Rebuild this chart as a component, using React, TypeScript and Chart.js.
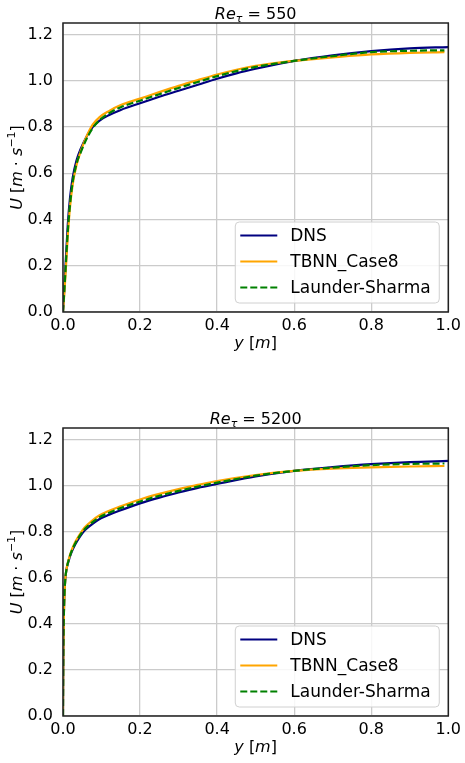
import React, { useEffect, useRef } from 'react';
import { Chart, registerables } from 'chart.js';

Chart.register(...registerables);

// ---------- data ----------
const SERIES_LABELS = ['DNS', 'TBNN_Case8', 'Launder-Sharma'];
const SERIES_COLORS = ['#000080', '#FFA500', '#008000'];
const X_TICKS = [0, 0.2, 0.4, 0.6, 0.8, 1.0];
const Y_TICKS = [0, 0.2, 0.4, 0.6, 0.8, 1.0, 1.2];

// Re_tau = 550
const yDns550 = [0, 0.003, 0.0065, 0.0125, 0.018, 0.025, 0.035, 0.047, 0.06, 0.077, 0.095, 0.12, 0.15, 0.2, 0.25, 0.3, 0.35, 0.4, 0.45, 0.5, 0.55, 0.6, 0.7, 0.8, 0.9, 1.0];
const uDns550 = [0, 0.09, 0.2, 0.38, 0.49, 0.58, 0.655, 0.71, 0.755, 0.8, 0.828, 0.852, 0.874, 0.903, 0.931, 0.957, 0.983, 1.009, 1.032, 1.052, 1.07, 1.086, 1.11, 1.128, 1.14, 1.146];
const yModel550 = [0, 0.003, 0.0065, 0.0125, 0.018, 0.025, 0.035, 0.047, 0.06, 0.077, 0.095, 0.12, 0.15, 0.2, 0.25, 0.3, 0.35, 0.4, 0.45, 0.5, 0.55, 0.6, 0.7, 0.8, 0.9, 0.99];
const uTbnn550 = [0, 0.07, 0.16, 0.33, 0.45, 0.55, 0.635, 0.7, 0.755, 0.81, 0.843, 0.87, 0.895, 0.923, 0.951, 0.978, 1.003, 1.027, 1.048, 1.065, 1.077, 1.086, 1.101, 1.114, 1.121, 1.124];
const uLs550 = [0, 0.08, 0.18, 0.35, 0.46, 0.56, 0.64, 0.695, 0.745, 0.795, 0.83, 0.86, 0.886, 0.914, 0.942, 0.969, 0.995, 1.02, 1.042, 1.06, 1.074, 1.086, 1.107, 1.124, 1.13, 1.132];

// Re_tau = 5200
const yDns5200 = [0, 0.0004, 0.001, 0.002, 0.0035, 0.0057, 0.009, 0.014, 0.022, 0.032, 0.044, 0.056, 0.075, 0.094, 0.12, 0.146, 0.2, 0.25, 0.3, 0.35, 0.4, 0.5, 0.6, 0.7, 0.8, 0.9, 1.0];
const uDns5200 = [0, 0.15, 0.3, 0.42, 0.52, 0.59, 0.635, 0.67, 0.71, 0.745, 0.778, 0.805, 0.832, 0.854, 0.874, 0.891, 0.923, 0.948, 0.97, 0.99, 1.007, 1.04, 1.064, 1.08, 1.093, 1.102, 1.107];
const yModel5200 = [0, 0.0004, 0.001, 0.002, 0.0035, 0.0057, 0.009, 0.014, 0.022, 0.032, 0.044, 0.056, 0.075, 0.094, 0.12, 0.146, 0.2, 0.25, 0.3, 0.35, 0.4, 0.5, 0.6, 0.7, 0.8, 0.9, 0.99];
const uTbnn5200 = [0, 0.13, 0.28, 0.41, 0.515, 0.588, 0.637, 0.675, 0.718, 0.756, 0.79, 0.818, 0.847, 0.87, 0.891, 0.908, 0.94, 0.964, 0.985, 1.003, 1.02, 1.046, 1.064, 1.074, 1.079, 1.083, 1.085];
const uLs5200 = [0, 0.14, 0.29, 0.415, 0.518, 0.589, 0.636, 0.672, 0.714, 0.75, 0.784, 0.811, 0.839, 0.862, 0.882, 0.9, 0.931, 0.956, 0.977, 0.996, 1.013, 1.043, 1.064, 1.078, 1.089, 1.094, 1.096];

const RE_550 = '550';
const RE_5200 = '5200';

// ---------- rendering helpers ----------
const FONT = "'DejaVu Sans', 'Liberation Sans', sans-serif";

type Part = { t: string; it?: boolean; size?: number; dy?: number };

function drawRich(ctx: CanvasRenderingContext2D, parts: Part[], cx: number, baseY: number) {
  const fontOf = (p: Part) => `${p.it ? 'italic ' : ''}${p.size ?? 16}px ${FONT}`;
  let total = 0;
  for (const p of parts) {
    ctx.font = fontOf(p);
    total += ctx.measureText(p.t).width;
  }
  let x = cx - total / 2;
  ctx.textAlign = 'left';
  ctx.textBaseline = 'alphabetic';
  ctx.fillStyle = '#000';
  for (const p of parts) {
    ctx.font = fontOf(p);
    ctx.fillText(p.t, x, baseY + (p.dy ?? 0));
    x += ctx.measureText(p.t).width;
  }
}

function makePanelPlugin(re: string) {
  return {
    id: 'panelDecor' + re,
    afterDatasetsDraw(chart: any) {
      const ctx: CanvasRenderingContext2D = chart.ctx;
      const ca = chart.chartArea;
      ctx.save();
      // frame
      ctx.strokeStyle = '#222';
      ctx.lineWidth = 1.5;
      ctx.strokeRect(ca.left, ca.top, ca.right - ca.left, ca.bottom - ca.top);

      // legend
      const bw = 204, bh = 81;
      const bx = ca.right - 9 - bw;
      const by = ca.bottom - 9 - bh;
      ctx.beginPath();
      (ctx as any).roundRect(bx, by, bw, bh, 4);
      ctx.fillStyle = 'rgba(255,255,255,0.85)';
      ctx.fill();
      ctx.strokeStyle = '#d0d0d0';
      ctx.lineWidth = 1;
      ctx.stroke();
      chart.data.datasets.forEach((ds: any, i: number) => {
        const ry = by + 13.5 + i * 26;
        ctx.beginPath();
        ctx.setLineDash(ds.borderDash || []);
        ctx.strokeStyle = ds.borderColor;
        ctx.lineWidth = 2.2;
        ctx.moveTo(bx + 5, ry);
        ctx.lineTo(bx + 42, ry);
        ctx.stroke();
        ctx.setLineDash([]);
        ctx.fillStyle = '#000';
        ctx.font = `17px ${FONT}`;
        ctx.textAlign = 'left';
        ctx.textBaseline = 'middle';
        ctx.fillText(ds.label, bx + 55, ry + 1);
      });

      // title
      const cx = (ca.left + ca.right) / 2;
      drawRich(ctx, [
        { t: 'Re', it: true },
        { t: 'τ', it: true, size: 11, dy: 3 },
        { t: ' = ' + re },
      ], cx, ca.top - 4.5);

      // x label
      drawRich(ctx, [
        { t: 'y', it: true },
        { t: ' [' },
        { t: 'm', it: true },
        { t: ']' },
      ], cx, ca.bottom + 36);

      // y label (rotated)
      ctx.save();
      ctx.translate(22, (ca.top + ca.bottom) / 2);
      ctx.rotate(-Math.PI / 2);
      drawRich(ctx, [
        { t: 'U', it: true },
        { t: ' [' },
        { t: 'm', it: true },
        { t: ' · ' },
        { t: 's', it: true },
        { t: '−1', size: 11, dy: -7 },
        { t: ']' },
      ], 0, 0);
      ctx.restore();
      ctx.restore();
    },
  };
}

function makeConfig(
  re: string,
  yDns: number[], uDns: number[],
  yModel: number[], uTbnn: number[], uLs: number[],
  padTop: number, xAxisH: number,
): any {
  const pts = (xs: number[], us: number[]) => xs.map((x, i) => ({ x, y: us[i] }));
  const common = { pointRadius: 0, borderWidth: 2.2, fill: false, cubicInterpolationMode: 'monotone' };
  return {
    type: 'line',
    data: {
      datasets: [
        { ...common, label: SERIES_LABELS[0], data: pts(yDns, uDns), borderColor: SERIES_COLORS[0], order: 2 },
        { ...common, label: SERIES_LABELS[1], data: pts(yModel, uTbnn), borderColor: SERIES_COLORS[1], order: 1 },
        { ...common, label: SERIES_LABELS[2], data: pts(yModel, uLs), borderColor: SERIES_COLORS[2], borderDash: [7, 3], order: 0 },
      ],
    },
    options: {
      animation: false,
      responsive: false,
      events: [],
      layout: { padding: { top: padTop, right: 15, bottom: 0, left: 0 } },
      plugins: { legend: { display: false }, title: { display: false }, tooltip: { enabled: false } },
      scales: {
        x: {
          type: 'linear',
          min: 0,
          max: 1,
          afterBuildTicks: (s: any) => { s.ticks = X_TICKS.map((v) => ({ value: v })); },
          afterFit: (s: any) => { s.height = xAxisH; },
          grid: { color: '#cbcbcb', lineWidth: 1.3, drawTicks: false },
          border: { display: false },
          ticks: {
            color: '#000',
            font: { family: FONT, size: 16 },
            padding: 4,
            maxRotation: 0,
            autoSkip: false,
            callback: (v: any) => Number(v).toFixed(1),
          },
        },
        y: {
          type: 'linear',
          min: 0,
          max: 1.25,
          afterBuildTicks: (s: any) => { s.ticks = Y_TICKS.map((v) => ({ value: v })); },
          afterFit: (s: any) => { s.width = 63; },
          grid: { color: '#cbcbcb', lineWidth: 1.3, drawTicks: false },
          border: { display: false },
          ticks: {
            color: '#000',
            font: { family: FONT, size: 16 },
            padding: 10,
            autoSkip: false,
            callback: (v: any) => Number(v).toFixed(1),
          },
        },
      },
    },
    plugins: [makePanelPlugin(re)],
  };
}

function Panel(props: { top: number; height: number; config: () => any }) {
  const ref = useRef<HTMLCanvasElement | null>(null);
  useEffect(() => {
    if (!ref.current) return;
    const chart = new Chart(ref.current, props.config());
    return () => chart.destroy();
  }, []);
  return (
    <canvas
      ref={ref}
      width={465}
      height={props.height}
      style={{ position: 'absolute', left: 0, top: props.top, width: 465, height: props.height }}
    />
  );
}

export default function App() {
  return (
    <div style={{ position: 'absolute', left: 0, top: 0, width: 465, height: 763, background: '#fff' }}>
      <Panel
        top={0}
        height={380}
        config={() => makeConfig(RE_550, yDns550, uDns550, yModel550, uTbnn550, uLs550, 23, 68)}
      />
      <Panel
        top={380}
        height={383}
        config={() => makeConfig(RE_5200, yDns5200, uDns5200, yModel5200, uTbnn5200, uLs5200, 48, 47)}
      />
    </div>
  );
}
